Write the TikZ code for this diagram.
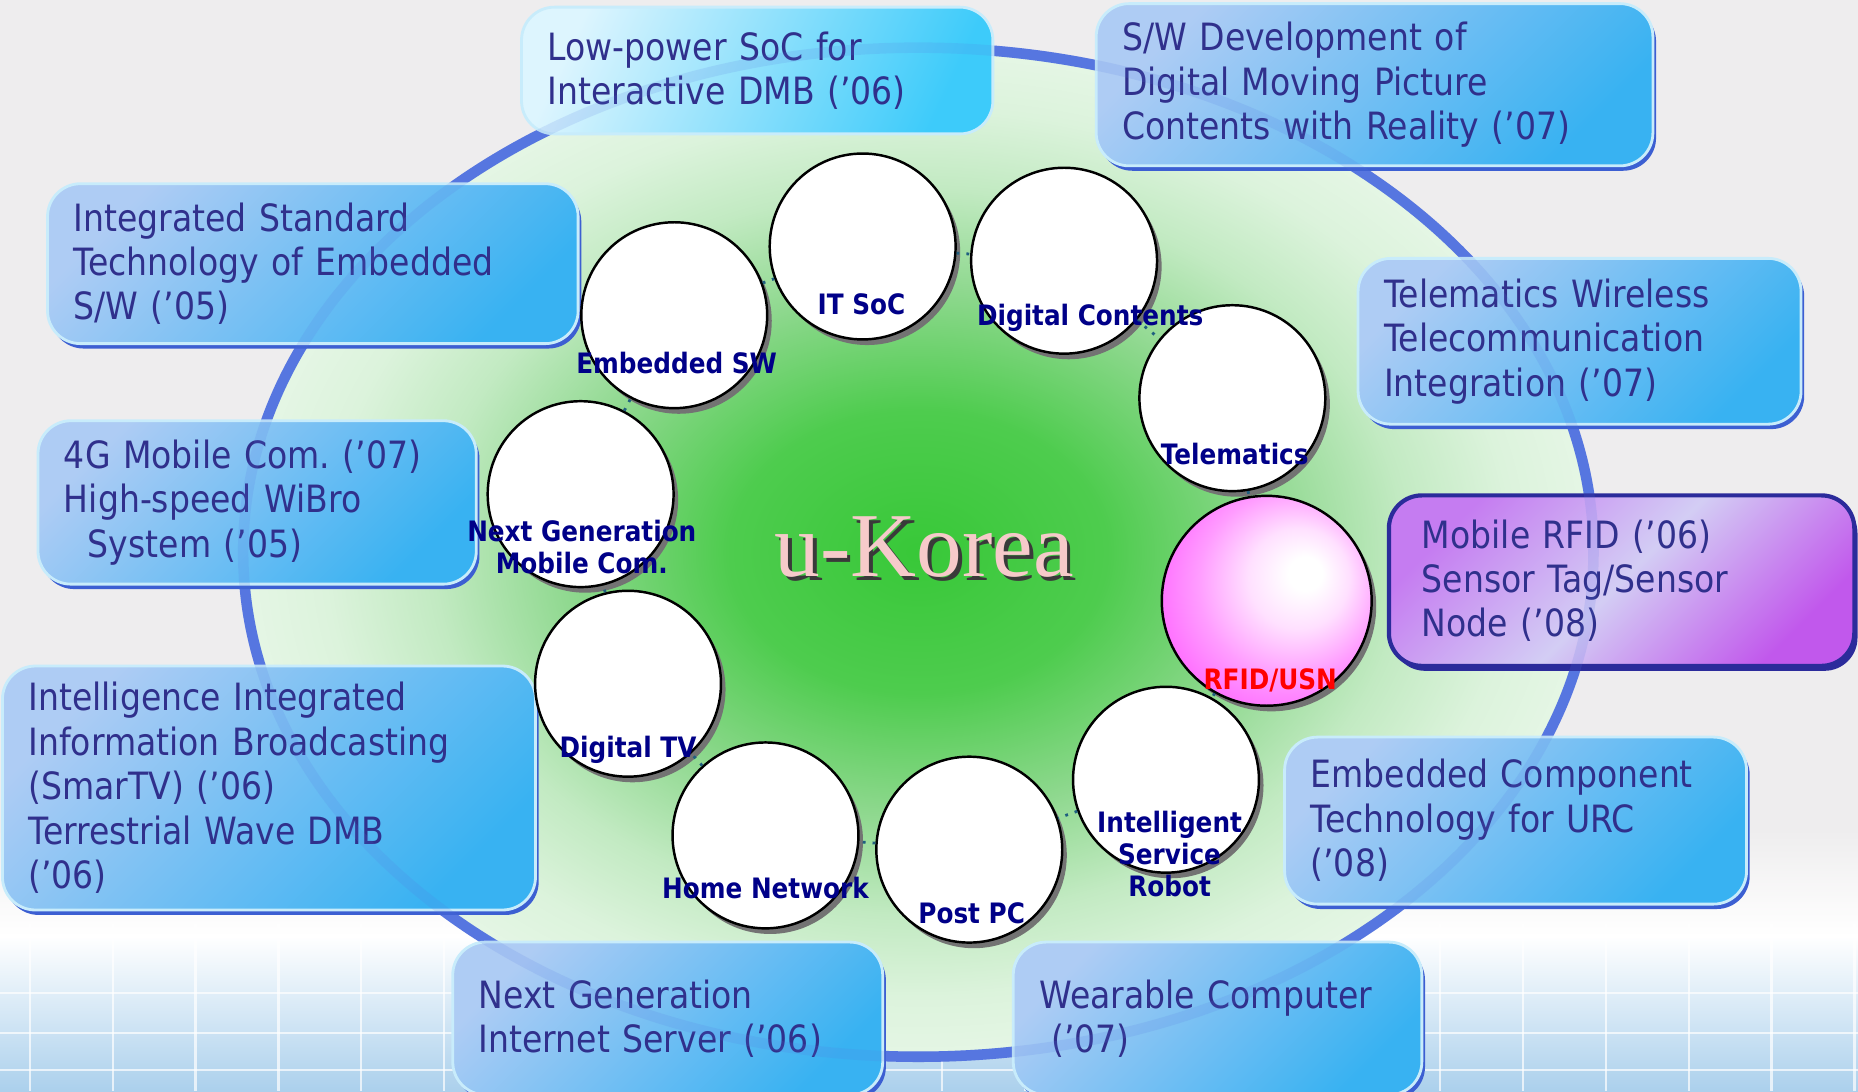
\documentclass[tikz,border=0pt]{standalone}
\usepackage{fontspec}
\setmainfont{DejaVu Sans}[FakeStretch=0.88]
\newfontfamily\titlefont{Liberation Serif}
\usetikzlibrary{shadows}
\frenchspacing
\definecolor{bggray}{HTML}{EEEDEE}
\definecolor{bgblue}{HTML}{ABD0EC}
\definecolor{ringblue}{HTML}{5676E0}
\definecolor{boxlight}{HTML}{AECCF4}
\definecolor{boxdark}{HTML}{38B2F2}
\definecolor{boxrim}{HTML}{C8ECFB}
\definecolor{boxedge}{HTML}{3C5FD2}
\definecolor{boxtext}{HTML}{30308C}
\definecolor{cyanlight}{HTML}{DDF5FE}
\definecolor{cyandark}{HTML}{3DCBFA}
\definecolor{rfidtop}{HTML}{C57CF1}
\definecolor{rfidmid}{HTML}{D3CDF4}
\definecolor{rfidbot}{HTML}{C158EC}
\definecolor{rfidrim}{HTML}{2B2B9B}
\definecolor{pinksoft}{HTML}{FFE0FF}
\definecolor{pinkmid}{HTML}{FF9CFF}
\definecolor{pinkball}{HTML}{FF66FF}
\definecolor{labelnavy}{HTML}{000088}
\definecolor{linkteal}{HTML}{1F5F7F}
\definecolor{koreapink}{HTML}{F6CACA}
\definecolor{koreashade}{HTML}{3A3A3A}
\definecolor{greenA}{HTML}{38C838}
\definecolor{greenB}{HTML}{4ECC4E}
\definecolor{greenC}{HTML}{8ED88E}
\definecolor{greenD}{HTML}{C2EAC2}
\definecolor{greenE}{HTML}{DCF3DC}
\definecolor{greenF}{HTML}{E5F6E5}
\pgfdeclareradialshading{ukorea}{\pgfpoint{0bp}{0bp}}{color(0bp)=(greenA); color(7bp)=(greenB); color(13bp)=(greenC); color(18bp)=(greenD); color(22bp)=(greenE); color(25bp)=(greenF); color(50bp)=(greenF)}
\pgfdeclareradialshading{rfidball}{\pgfpoint{10bp}{7bp}}{color(0bp)=(white); color(4bp)=(white); color(12bp)=(pinksoft); color(22bp)=(pinkmid); color(32bp)=(pinkball); color(50bp)=(pinkball)}

\begin{document}
\begin{tikzpicture}[x=0.01185cm,y=-0.01185cm,
        boxbase/.style={rounded corners=0.33cm, align=left, text=boxtext,
          inner xsep=0.26cm, inner ysep=0pt,
          font=\fontsize{10.7}{12.65}\selectfont},
        itembox/.style={boxbase, draw=boxrim, line width=0.8pt,
          top color=boxlight, bottom color=boxdark, shading angle=45,
          drop shadow={shadow xshift=0.9pt, shadow yshift=-1.4pt, fill=boxedge, opacity=1}},
        lowbox/.style={boxbase, draw=boxrim, line width=0.8pt,
          top color=cyanlight, bottom color=cyandark, shading angle=65},
        rfidbox/.style={boxbase, inner xsep=0.33cm, draw=rfidrim, line width=1.2pt,
          top color=rfidtop, bottom color=rfidbot, middle color=rfidmid, shading angle=45,
          drop shadow={shadow xshift=0.9pt, shadow yshift=-1.4pt, fill=rfidrim, opacity=1}},
        circ/.style={circle, draw=black, line width=0.7pt, fill=white,
          minimum size=1.86cm, inner sep=0pt,
          drop shadow={shadow xshift=1.3pt, shadow yshift=-1.6pt, fill=black!55, opacity=1}},
        cirlabel/.style={align=center, text=labelnavy, inner sep=0pt,
          font=\bfseries\fontsize{8}{9.1}\selectfont},
        link/.style={dotted, line width=0.8pt, draw=linkteal},
        ]
  \useasboundingbox (0,0) rectangle (1568,921);

  % background
  \fill[bggray] (0,0) rectangle (1568,921);
  \shade[top color=bggray, bottom color=white] (0,700) rectangle (1568,790);
  \shade[top color=white, bottom color=bgblue] (0,790) rectangle (1568,921);
  \foreach \gx in {25,95,...,1568}
    \draw[white, line width=0.6pt, opacity=0.7] (\gx,780) -- (\gx,921);
  \foreach \gy in {838,872,903}
    \draw[white, line width=0.6pt, opacity=0.7] (0,\gy) -- (1568,\gy);

  % big ellipse and ring
  \shade[shading=ukorea] (775,466) ellipse [x radius=6.755cm, y radius=5.048cm];
  \draw[ringblue, line width=3pt] (775,466) ellipse [x radius=6.755cm, y radius=5.048cm];

  % title
  \node[text=koreashade, font=\titlefont\fontsize{26}{30}\selectfont] (koreashadow) at (783,465) {u-Korea};
  \node[text=koreapink, font=\titlefont\fontsize{26}{30}\selectfont] (korea) at (780,462) {u-Korea};

  % project boxes
  \node[lowbox, text width=4.196cm, minimum height=1.268cm] (socdmb) at (639,59.5)
    {Low-power SoC for\\Interactive DMB ('06)};
  \node[itembox, text width=5.05cm, minimum height=1.623cm] (movpic) at (1160,71.5)
    {S/W Development of\\Digital Moving Picture\\Contents with Reality ('07)};
  \node[itembox, text width=4.789cm, minimum height=1.6cm] (stdsw) at (264,222.5)
    {Integrated Standard\\Technology of Embedded\\S/W ('05)};
  \node[itembox, text width=3.912cm, minimum height=1.659cm] (telwire) at (1333,288)
    {Telematics Wireless\\Telecommunication\\Integration ('07)};
  \node[itembox, text width=3.865cm, minimum height=1.635cm] (wibro) at (217,424)
    {4G Mobile Com. ('07)\\High-speed WiBro\\\hspace*{0.24cm}System ('05)};
  \node[rfidbox, text width=3.997cm, minimum height=1.706cm] (mobrfid) at (1368.5,490)
    {Mobile RFID ('06)\\Sensor Tag/Sensor\\Node ('08)};
  \node[itembox, text width=4.813cm, minimum height=2.441cm] (smartv) at (227,665)
    {Intelligence Integrated\\Information Broadcasting\\(SmarTV) ('06)\\Terrestrial Wave DMB\\('06)};
  \node[itembox, text width=4.102cm, minimum height=1.671cm] (urc) at (1279,692.5)
    {Embedded Component\\Technology for URC\\('08)};
  \node[itembox, text width=3.782cm, minimum height=1.529cm] (netsrv) at (563.5,859.5)
    {Next Generation\\Internet Server ('06)};
  \node[itembox, text width=3.568cm, minimum height=1.529cm] (wearable) at (1027.5,859.5)
    {Wearable Computer\\\hspace*{0.12cm}('07)};

  % faint ring seen through the boxes
  \draw[ringblue, line width=3pt, opacity=0.15] (775,466) ellipse [x radius=6.755cm, y radius=5.048cm];

  % technology circles
  \node[circ] (itsoc) at (728,208) {};
  \node[circ] (dcont) at (898,220) {};
  \node[circ] (embsw) at (569,266) {};
  \node[circ] (telem) at (1040,336) {};
  \node[circ] (nextgen) at (490,417) {};
  \node[circ, minimum size=2.1cm, shade, shading=rfidball] (rfid) at (1069,507) {};
  \node[circ] (dtv) at (530,577) {};
  \node[circ] (robot) at (984,658) {};
  \node[circ] (homenet) at (646,705) {};
  \node[circ] (postpc) at (818,717) {};

  \foreach \a/\b in {embsw/itsoc, itsoc/dcont, dcont/telem, telem/rfid, rfid/robot,
                     robot/postpc, postpc/homenet, homenet/dtv, dtv/nextgen, nextgen/embsw}
    \draw[link] (\a) -- (\b);

  \node[cirlabel] (itsoclbl) at (727,257) {IT SoC};
  \node[cirlabel] (dcontlbl) at (920,268) {Digital Contents};
  \node[cirlabel] (embswlbl) at (571,306) {Embedded SW};
  \node[cirlabel] (telemlbl) at (1042,383) {Telematics};
  \node[cirlabel] (nextgenlbl) at (491,461.5) {Next Generation\\Mobile Com.};
  \node[cirlabel, text=red] (rfidlbl) at (1072,574) {RFID/USN};
  \node[cirlabel] (dtvlbl) at (530,633) {Digital TV};
  \node[cirlabel] (robotlbl) at (987,721) {Intelligent\\Service\\Robot};
  \node[cirlabel] (homenetlbl) at (646,749) {Home Network};
  \node[cirlabel] (postpclbl) at (820,771) {Post PC};
\end{tikzpicture}
\end{document}
